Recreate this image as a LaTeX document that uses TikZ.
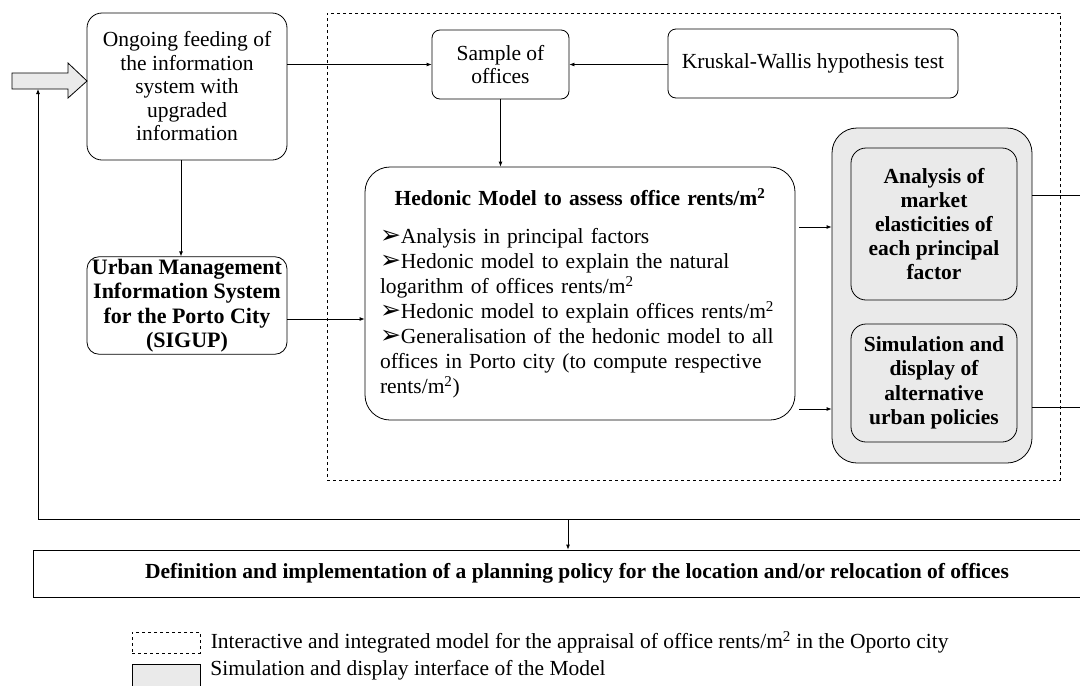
\documentclass[tikz,border=0pt]{standalone}
\usepackage{fontspec}
\setmainfont{Liberation Serif}
\newfontfamily\symfont{DejaVu Sans}
\usetikzlibrary{arrows.meta}
\usetikzlibrary{positioning}

\definecolor{panel}{RGB}{234,234,234}
\newcommand{\bul}{{\symfont\fontsize{25}{25}\selectfont\char"27A2}}
\newcommand{\msq}{m\textsuperscript{2}}

\tikzset{
  box/.style={draw, rounded corners=#1, align=center, inner sep=2pt,
    font=\fontsize{21.5}{23.5}\selectfont},
  box/.default=10pt,
  shaded/.style={fill=panel},
  >={Latex[length=5pt,width=4pt]}
}

\begin{document}
\begin{tikzpicture}[x=1pt, y=-1pt, line width=0.8pt]
    \useasboundingbox (0,0) rectangle (1080,686);

    % dashed frame of the model
    \node (model) [draw, dashed, minimum width=733pt, minimum height=467pt] at (693.5,246.5) {};

    \node (ongoing) [box=15pt, minimum width=200pt, minimum height=147pt] at (187,86.5)
      {Ongoing feeding of\\the information\\system with\\upgraded\\information};
    \node (sigup) [box=12pt, minimum width=200pt, minimum height=95pt, font=\fontsize{22}{24.5}\selectfont\bfseries] at (187,305.5)
      {Urban Management\\Information System\\for the Porto City\\(SIGUP)};
    \node (sample) [box=8pt, minimum width=137pt, minimum height=69pt] at (500.5,64.5) {Sample of\\offices};
    \node (kruskal) [box=8pt, minimum width=290pt, minimum height=69pt] at (813,63.5) {Kruskal-Wallis hypothesis test};

    \node (hedonic) [box=25pt, minimum width=430pt, minimum height=253pt, text width=400pt, align=left,
      font=\fontsize{21.5}{25}\selectfont] at (580,293.5)
      {{\centering\textbf{Hedonic Model to assess office rents/\msq}\par}\vspace{13pt}
       \bul Analysis in principal factors\\
       \bul Hedonic model to explain the natural\\
       logarithm of offices rents/\msq\\
       \bul Hedonic model to explain offices rents/\msq\\
       \bul Generalisation of the hedonic model to all\\
       offices in Porto city (to compute respective\\
       rents/\msq)};

    % simulation and display interface
    \node (outer) [box=25pt, shaded, minimum width=200pt, minimum height=335pt] at (932,295.5) {};
    \node (elast) [box=15pt, shaded, minimum width=166pt, minimum height=152pt, font=\fontsize{21.5}{24}\selectfont\bfseries] at (934,224)
      {Analysis of\\market\\elasticities of\\each principal\\factor};
    \node (simul) [box=15pt, shaded, minimum width=166pt, minimum height=118pt, font=\fontsize{21.5}{24.5}\selectfont\bfseries] at (934,383)
      {Simulation and\\display of\\alternative\\urban policies};

    \node (policy) [draw, minimum width=1088pt, minimum height=47pt, font=\fontsize{21.5}{22}\selectfont\bfseries] at (577,573.5)
      {Definition and implementation of a planning policy for the location and/or relocation of offices};

    % input arrow
    \draw [fill=panel] (12,73) -- (68,73) -- (68,63) -- (87,81) -- (68,98) -- (68,89) -- (12,89) -- cycle;
    \coordinate (fbin) at (38,89);

    \coordinate (s2h) at ([yshift=-13.5pt]sigup.east);
    \coordinate (h1) at ([xshift=4pt,yshift=66.5pt]hedonic.east);
    \coordinate (h2) at ([xshift=4pt,yshift=-115.5pt]hedonic.east);
    \coordinate (r1) at (1080,195);
    \coordinate (r2) at (1080,407);
    \coordinate (fbr) at (1080,519);
    \coordinate (fbl) at (38,519);
    \coordinate (fbm) at (568,519);

    \path [->] (sample.west -| ongoing.east) edge (sample.west);
    \path [->] (kruskal.west |- sample.east) edge (sample.east);
    \path [->] (sample.south) edge (sample.south |- hedonic.north);
    \path [->] ([xshift=-6pt]ongoing.south) edge ([xshift=-6pt]sigup.north);
    \path [->] (s2h) edge (s2h -| hedonic.west);
    \path [->] (h1) edge (h1 -| outer.west);
    \path [->] (h2) edge (h2 -| outer.west);
    \draw (outer.east |- r1) -- (r1);
    \draw (outer.east |- r2) -- (r2);

    % feedback loop
    \draw [->] (fbr) -- (fbl) -- (fbin);
    \draw [->] (fbm) -- (fbm |- policy.north);

    % legend
    \node (leg1) [draw, dashed, minimum width=68pt, minimum height=21pt] at (166,642.5) {};
    \node (leg1txt) [right=10pt of leg1, inner sep=0pt, font=\fontsize{21.5}{22}\selectfont] {Interactive and integrated model for the appraisal of office rents/\msq{} in the Oporto city};
    \node (leg2) [draw, shaded, minimum width=68pt, minimum height=36pt] at (166,682) {};
    \node (leg2txt) [anchor=west, inner sep=0pt, font=\fontsize{21.5}{22}\selectfont] at (210,670) {Simulation and display interface of the Model};
\end{tikzpicture}
\end{document}
